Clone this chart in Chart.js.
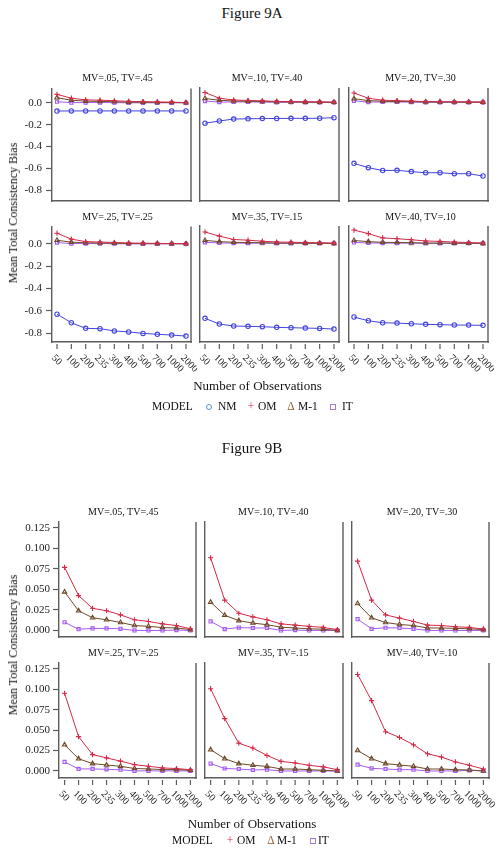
<!DOCTYPE html>
<html>
<head>
<meta charset="utf-8">
<script src="https://cdn.jsdelivr.net/npm/chart.js@4.4.0/dist/chart.umd.min.js"></script>
<style>
  body { margin: 0; background: #fff; }
  #page { position: relative; width: 503px; height: 853px; overflow: hidden;
          font-family: "Liberation Serif", "Times New Roman", serif; color: #111; }
  .t { position: absolute; white-space: nowrap; line-height: 1; }
  .sym { position: absolute; box-sizing: border-box; }
  canvas { position: absolute; }
</style>
</head>
<body>
<div id="page"></div>
<script>
// x categories (number of observations) and panel labels
const OBS = ['50', '100', '200', '235', '300', '400', '500', '700', '1000', '2000'];
const CELLS = ['MV=.05, TV=.45', 'MV=.10, TV=.40', 'MV=.20, TV=.30',
               'MV=.25, TV=.25', 'MV=.35, TV=.15', 'MV=.40, TV=.10'];
const Y_TICKS_A = [0, -0.2, -0.4, -0.6, -0.8];
const Y_TICKS_B = [0, 0.025, 0.05, 0.075, 0.1, 0.125];

// one row per panel, in panel order
const NM = [
  [-0.075, -0.074, -0.074, -0.074, -0.074, -0.074, -0.074, -0.074, -0.074, -0.074],
  [-0.19, -0.17, -0.152, -0.15, -0.148, -0.147, -0.146, -0.146, -0.145, -0.14],
  [-0.555, -0.594, -0.62, -0.618, -0.63, -0.64, -0.64, -0.649, -0.649, -0.67],
  [-0.628, -0.705, -0.755, -0.758, -0.778, -0.787, -0.8, -0.808, -0.815, -0.824],
  [-0.667, -0.717, -0.735, -0.738, -0.741, -0.747, -0.75, -0.753, -0.756, -0.762],
  [-0.655, -0.688, -0.706, -0.709, -0.715, -0.72, -0.723, -0.726, -0.727, -0.729]
];
const OM = [
  [0.077, 0.0425, 0.027, 0.024, 0.019, 0.013, 0.011, 0.008, 0.006, 0.002],
  [0.0886, 0.037, 0.021, 0.0165, 0.013, 0.008, 0.0065, 0.005, 0.0037, 0.001],
  [0.0846, 0.037, 0.019, 0.015, 0.011, 0.0065, 0.006, 0.0045, 0.0037, 0.0017],
  [0.095, 0.042, 0.02, 0.016, 0.012, 0.0077, 0.0058, 0.0037, 0.003, 0.0015],
  [0.1006, 0.064, 0.034, 0.028, 0.019, 0.0117, 0.0098, 0.0069, 0.005, 0.0016],
  [0.118, 0.086, 0.048, 0.041, 0.032, 0.021, 0.017, 0.011, 0.007, 0.0024]
];
const M1 = [
  [0.047, 0.024, 0.0155, 0.013, 0.0097, 0.006, 0.005, 0.0035, 0.003, 0.001],
  [0.0345, 0.0185, 0.012, 0.009, 0.007, 0.004, 0.003, 0.002, 0.0015, 0.0],
  [0.0328, 0.0154, 0.0097, 0.0073, 0.006, 0.003, 0.003, 0.0025, 0.002, 0.001],
  [0.032, 0.015, 0.009, 0.0073, 0.0057, 0.003, 0.0025, 0.0017, 0.0017, 0.0008],
  [0.026, 0.015, 0.009, 0.007, 0.0056, 0.0024, 0.0024, 0.0016, 0.0008, 0.0],
  [0.025, 0.015, 0.009, 0.0073, 0.0057, 0.0024, 0.0024, 0.0016, 0.0012, 0.0]
];
const IT = [
  [0.01, 0.0015, 0.0025, 0.0025, 0.002, 0.0, 0.0, 0.0, 0.0005, 0.0],
  [0.011, 0.0017, 0.0035, 0.003, 0.003, 0.0, 0.0005, 0.0, 0.0, 0.0],
  [0.0138, 0.002, 0.0033, 0.003, 0.002, 0.0, 0.0, 0.0, 0.0, 0.0],
  [0.011, 0.0025, 0.0025, 0.002, 0.0015, 0.0, 0.0002, 0.0, 0.0002, 0.0],
  [0.009, 0.003, 0.0024, 0.0012, 0.0016, 0.0, 0.0, 0.0, 0.0, 0.0],
  [0.0077, 0.0032, 0.0024, 0.0016, 0.0016, 0.0, 0.0, 0.0, 0.0008, 0.0]
];

const FONT = '"Liberation Serif", "Times New Roman", serif';
const AX = '#5c5c5c';
const STYLE = {
  NM: { color: '#4343dc', point: 'circle', r: 2.2 },
  OM: { color: '#d22a48', point: 'cross', r: 2.6 },
  M1: { color: '#6e4a2a', point: 'triangle', r: 2.5 },
  IT: { color: '#a45cf0', point: 'rect', r: 2.2 }
};
const PADL = 44, PADT = 10, PADR = 6, PADB = 44;

const GEO_A = {
  cols: [[52, 191], [200, 339], [349, 488]],
  rows: [[88, 201], [226, 342]],
  y: [[-0.897, 0.13], [-0.877, 0.154]],
  x: [-0.35, 9.35],
  titleX: [117.5, 267, 420.5], titleY: [78, 217]
};
const GEO_B = {
  cols: [[59, 196], [205, 343], [352, 489]],
  rows: [[522, 637], [663, 778]],
  y: [[-0.008, 0.1323], [-0.0086, 0.132]],
  x: [-0.4, 9.4],
  titleX: [123.3, 273.3, 422], titleY: [512, 653]
};

const page = document.getElementById('page');

function txt(s, x, y, size, opts = {}) {
  const d = document.createElement('div');
  d.className = 't';
  d.textContent = s;
  d.style.fontSize = size + 'px';
  d.style.left = x + 'px';
  if (opts.color) d.style.color = opts.color;
  if (opts.rot) {
    d.style.top = y + 'px';
    d.style.transform = 'translate(-50%, -50%) rotate(' + opts.rot + 'deg)';
  } else {
    d.style.top = (y - size / 2) + 'px';
    d.style.transform = opts.align === 'left' ? 'none' : 'translateX(-50%)';
  }
  page.appendChild(d);
}

function sym(x, y, size, color, round) {
  const d = document.createElement('div');
  d.className = 'sym';
  d.style.left = (x - size / 2) + 'px';
  d.style.top = (y - size / 2) + 'px';
  d.style.width = size + 'px';
  d.style.height = size + 'px';
  d.style.border = '1px solid ' + color;
  if (round) d.style.borderRadius = '50%';
  page.appendChild(d);
}

// right border of each cell, plus gapped x ticks and slanted labels on the bottom row
const framePlugin = {
  id: 'frame',
  afterDraw(chart, args, o) {
    const { ctx, chartArea: a } = chart;
    const x = chart.scales.x;
    ctx.save();
    ctx.strokeStyle = AX;
    ctx.lineWidth = 1.4;
    ctx.beginPath();
    ctx.moveTo(a.right, a.top);
    ctx.lineTo(a.right, a.bottom + 0.7);
    ctx.stroke();
    if (o.xLabels) {
      ctx.lineWidth = 1.2;
      ctx.font = '10px ' + FONT;
      ctx.fillStyle = '#222';
      ctx.textAlign = 'left';
      ctx.textBaseline = 'middle';
      OBS.forEach((lab, i) => {
        const px = x.getPixelForValue(i);
        ctx.beginPath();
        ctx.moveTo(px, a.bottom + 2);
        ctx.lineTo(px, a.bottom + 7);
        ctx.stroke();
        ctx.save();
        ctx.translate(px - 4, a.bottom + 14.5);
        ctx.rotate(Math.PI / 4);
        ctx.fillText(lab, 0, 0);
        ctx.restore();
      });
    }
    ctx.restore();
  }
};

function panel(geo, idx, series, yTicks, fmt, tickSize, tickPad) {
  const row = Math.floor(idx / 3), col = idx % 3;
  const [l, r] = geo.cols[col];
  const [t, b] = geo.rows[row];
  const cv = document.createElement('canvas');
  cv.width = r - l + PADL + PADR;
  cv.height = b - t + PADT + PADB;
  cv.style.left = (l - PADL) + 'px';
  cv.style.top = (t - PADT) + 'px';
  page.appendChild(cv);

  txt(CELLS[idx], geo.titleX[col], geo.titleY[row], 10);

  const first = col === 0;
  new Chart(cv, {
    type: 'line',
    data: {
      datasets: series.map(s => ({
        label: s.name,
        data: s.values[idx].map((v, i) => ({ x: i, y: v })),
        borderColor: STYLE[s.name].color,
        borderWidth: 1,
        pointStyle: STYLE[s.name].point,
        pointRadius: STYLE[s.name].r,
        pointBorderColor: STYLE[s.name].color,
        pointBackgroundColor: 'rgba(255,255,255,0)',
        pointBorderWidth: 1.1,
        tension: 0,
        fill: false
      }))
    },
    options: {
      responsive: false,
      animation: false,
      devicePixelRatio: 1,
      layout: { padding: { left: 0, top: PADT, right: PADR, bottom: 0 } },
      plugins: {
        legend: { display: false },
        tooltip: { enabled: false },
        frame: { xLabels: row === 1 }
      },
      scales: {
        x: {
          type: 'linear', bounds: 'data',
          min: geo.x[0], max: geo.x[1],
          ticks: { display: false },
          grid: { display: false },
          border: { display: true, color: AX, width: 1.4 },
          afterFit: s => { s.height = PADB; }
        },
        y: {
          type: 'linear', bounds: 'data',
          min: geo.y[row][0], max: geo.y[row][1],
          afterBuildTicks: s => { s.ticks = yTicks.map(v => ({ value: v })); },
          ticks: {
            display: first,
            color: '#222',
            padding: tickPad,
            font: { family: FONT, size: tickSize },
            callback: v => fmt(v)
          },
          grid: {
            display: first, drawOnChartArea: false, drawTicks: true,
            tickLength: 6, tickWidth: 1.2, color: AX
          },
          border: { display: true, color: AX, width: 1.4 },
          afterFit: s => { s.width = PADL; }
        }
      }
    },
    plugins: [framePlugin]
  });
}

// Figure 9A
txt('Figure 9A', 252, 13, 15);
const seriesA = [
  { name: 'OM', values: OM }, { name: 'M1', values: M1 },
  { name: 'IT', values: IT }, { name: 'NM', values: NM }
];
for (let i = 0; i < 6; i++) {
  panel(GEO_A, i, seriesA, Y_TICKS_A, v => v.toFixed(1), 11, 4);
}
txt('Mean Total Consistency Bias', 13, 213, 12, { rot: -90 });
txt('Number of Observations', 257.5, 385, 13);
txt('MODEL', 152, 407, 11.5, { align: 'left' });
sym(209, 407, 6, '#5a93d6', true);
txt('NM', 218, 407, 11.5, { align: 'left' });
txt('+', 251, 406.5, 11.5, { color: STYLE.OM.color });
txt('OM', 258, 407, 11.5, { align: 'left' });
txt('Δ', 291, 407, 11.5, { color: '#8e5f33' });
txt('M-1', 298, 407, 11.5, { align: 'left' });
sym(333, 407, 6, '#a07fd8', false);
txt('IT', 342, 407, 11.5, { align: 'left' });

// Figure 9B
txt('Figure 9B', 252, 448, 15);
const seriesB = [
  { name: 'OM', values: OM }, { name: 'M1', values: M1 }, { name: 'IT', values: IT }
];
for (let i = 0; i < 6; i++) {
  panel(GEO_B, i, seriesB, Y_TICKS_B, v => v.toFixed(3), 11, 3);
}
txt('Mean Total Consistency Bias', 13, 645, 12, { rot: -90 });
txt('Number of Observations', 252, 823, 13);
txt('MODEL', 172, 841, 11.5, { align: 'left' });
txt('+', 230, 840.5, 11.5, { color: STYLE.OM.color });
txt('OM', 237, 841, 11.5, { align: 'left' });
txt('Δ', 271, 841, 11.5, { color: '#8e5f33' });
txt('M-1', 277, 841, 11.5, { align: 'left' });
sym(313, 841, 6, '#a07fd8', false);
txt('IT', 318, 841, 11.5, { align: 'left' });
</script>
</body>
</html>
